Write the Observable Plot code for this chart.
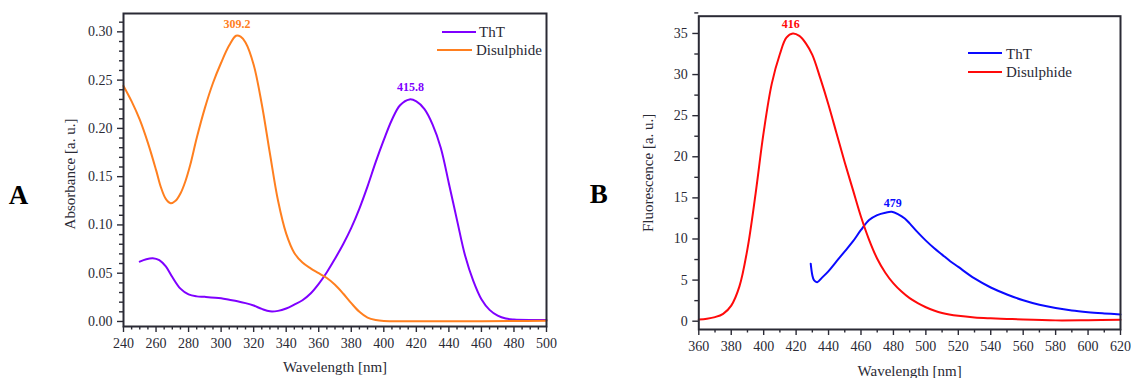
<!DOCTYPE html>
<html>
<head>
<meta charset="utf-8">
<script src="https://cdn.jsdelivr.net/npm/d3@7"></script>
<script src="https://cdn.jsdelivr.net/npm/@observablehq/plot@0.6"></script>
<style>
  body { margin: 0; background: #fff; font-family: "Liberation Serif", "Times New Roman", serif; }
  #wrap { position: relative; width: 1131px; height: 378px; overflow: hidden;
          font-family: "Liberation Serif", "Times New Roman", serif; }
  .panel { position: absolute; top: 0; }
  .lg-line { position: absolute; height: 2.5px; }
  .lg-text { position: absolute; font-size: 15px; line-height: 18px; color: #2a2a35; white-space: nowrap;
             font-family: "Liberation Serif", "Times New Roman", serif; }
</style>
</head>
<body>
<div id="wrap"></div>
<script>
// ---------------- DATA ----------------
const seriesNames = ["ThT", "Disulphide"];

// Panel A: absorbance
const absWavelengthThT = [250, 254, 258, 262, 266, 270, 275, 280, 285, 290, 300, 305, 310, 315, 320, 325, 330, 335, 340, 345, 350, 355, 360, 365, 370, 375, 380, 385, 390, 395, 400, 405, 410, 415.8, 420, 425, 430, 435, 440, 445, 450, 455, 460, 465, 470, 475, 480, 490, 500];
const absThT =           [0.062, 0.0645, 0.0655, 0.0635, 0.057, 0.046, 0.034, 0.028, 0.026, 0.0255, 0.024, 0.0225, 0.021, 0.019, 0.0165, 0.013, 0.0105, 0.011, 0.0135, 0.0175, 0.022, 0.029, 0.039, 0.051, 0.065, 0.080, 0.097, 0.117, 0.140, 0.165, 0.188, 0.209, 0.224, 0.230, 0.228, 0.220, 0.204, 0.180, 0.143, 0.105, 0.068, 0.042, 0.023, 0.012, 0.006, 0.003, 0.002, 0.0015, 0.0015];

const absWavelengthDis = [240, 245, 250, 255, 260, 263, 266, 269, 272, 275, 278, 281, 285, 290, 295, 300, 305, 309.2, 312, 315, 320, 325, 330, 335, 340, 345, 350, 355, 360, 365, 370, 375, 380, 385, 390, 395, 400, 420, 450, 480, 500];
const absDis =           [0.244, 0.228, 0.209, 0.185, 0.157, 0.139, 0.127, 0.1225, 0.125, 0.1325, 0.145, 0.162, 0.190, 0.221, 0.247, 0.268, 0.286, 0.296, 0.295, 0.289, 0.266, 0.225, 0.174, 0.125, 0.091, 0.071, 0.061, 0.055, 0.050, 0.045, 0.038, 0.029, 0.019, 0.010, 0.004, 0.0015, 0.0005, 0.0003, 0.0003, 0.0005, 0.0008];

const absPeakSeries = ["Disulphide", "ThT"];
const absPeakWavelength = [309.2, 415.8];
const absPeakValue = [0.296, 0.230];
const absPeakLabel = ["309.2", "415.8"];

const absXTicks = [240, 260, 280, 300, 320, 340, 360, 380, 400, 420, 440, 460, 480, 500];
const absYTicks = [0.00, 0.05, 0.10, 0.15, 0.20, 0.25, 0.30];

// Panel B: fluorescence
const flWavelengthThT = [429, 430, 431, 433, 436, 440, 445, 450, 455, 460, 465, 470, 475, 479, 483, 487, 490, 495, 500, 505, 510, 515, 520, 530, 540, 550, 560, 570, 580, 590, 600, 610, 620];
const flThT =           [7.0, 5.6, 5.0, 4.75, 5.3, 6.1, 7.3, 8.5, 9.7, 11.1, 12.3, 12.9, 13.2, 13.3, 13.0, 12.5, 11.9, 10.8, 9.8, 8.9, 8.1, 7.3, 6.6, 5.2, 4.1, 3.25, 2.55, 2.0, 1.6, 1.3, 1.1, 0.95, 0.82];

const flWavelengthDis = [360, 365, 370, 375, 380, 385, 390, 395, 400, 405, 410, 414, 418, 422, 426, 430, 435, 440, 445, 450, 455, 460, 465, 470, 475, 480, 485, 490, 495, 500, 505, 510, 520, 530, 540, 550, 560, 580, 600, 620];
const flDis =           [0.2, 0.3, 0.5, 0.9, 1.9, 4.2, 8.8, 15.5, 23.0, 28.9, 32.5, 34.5, 35.0, 34.7, 33.8, 32.4, 29.5, 26.3, 22.8, 19.3, 16.0, 12.7, 9.9, 7.6, 5.9, 4.6, 3.6, 2.8, 2.2, 1.7, 1.3, 1.0, 0.65, 0.45, 0.35, 0.28, 0.2, 0.1, 0.12, 0.17];

const flPeakSeries = ["Disulphide", "ThT"];
const flPeakWavelength = [416, 479];
const flPeakValue = [35.0, 13.3];
const flPeakLabel = ["416", "479"];

const flXTicks = [360, 380, 400, 420, 440, 460, 480, 500, 520, 540, 560, 580, 600, 620];
const flYTicks = [0, 5, 10, 15, 20, 25, 30, 35];

const xTitle = "Wavelength [nm]";
const absYTitle = "Absorbance [a. u.]";
const flYTitle = "Fluorescence [a. u.]";

// ---------------- STYLE ----------------
const colorsA = ["#7f00ff", "#ff7f1f"];
const colorsB = ["#0a0aff", "#ff0a0a"];
const fontFamily = '"Liberation Serif", "Times New Roman", serif';
const ink = "#2a2a35";

function rowsFrom(name, xs, ys) { return xs.map((x, i) => ({series: name, wavelength: x, value: ys[i]})); }
function peaksFrom(series, xs, ys, labels) { return xs.map((x, i) => ({series: series[i], wavelength: x, value: ys[i], label: labels[i]})); }

const rowsA = [...rowsFrom("ThT", absWavelengthThT, absThT), ...rowsFrom("Disulphide", absWavelengthDis, absDis)];
const rowsB = [...rowsFrom("ThT", flWavelengthThT, flThT), ...rowsFrom("Disulphide", flWavelengthDis, flDis)];
const peaksA = peaksFrom(absPeakSeries, absPeakWavelength, absPeakValue, absPeakLabel);
const peaksB = peaksFrom(flPeakSeries, flPeakWavelength, flPeakValue, flPeakLabel);

function minorTicks(lo, hi, step, majors) {
  const out = [];
  for (let v = lo; v <= hi + step / 2; v += step) {
    const r = Math.round(v * 1e6) / 1e6;
    if (!majors.some(m => Math.abs(m - r) < step / 10)) out.push(r);
  }
  return out;
}

function makePanel(o) {
  const textCommon = {fontFamily, textAnchor: "middle", lineAnchor: "middle"};
  return Plot.plot({
    width: o.width, height: 378,
    marginLeft: o.ml, marginTop: o.mt, marginRight: o.mr, marginBottom: o.mb,
    style: {fontFamily, fontSize: "14px", color: ink, background: "transparent", overflow: "visible"},
    x: {domain: o.xDomain},
    y: {domain: o.yDomain},
    color: {domain: seriesNames, range: o.colors},
    marks: [
      Plot.axisX({ticks: o.xMajor, tickSize: 6, tickPadding: 6, tickFormat: d => String(d), label: null, stroke: ink, strokeWidth: 1.4, fontSize: 14, fill: ink, fontFamily}),
      Plot.axisX({ticks: o.xMinor, tickSize: 3.5, tickFormat: () => "", label: null, stroke: ink, strokeWidth: 1.4}),
      Plot.axisY({ticks: o.yMajor, tickSize: 6, tickPadding: 5, tickFormat: o.yFormat, label: null, stroke: ink, strokeWidth: 1.4, fontSize: 14, fill: ink, fontFamily}),
      Plot.axisY({ticks: o.yMinor, tickSize: 4, tickFormat: () => "", label: null, stroke: ink, strokeWidth: 1.4}),
      Plot.line(o.rows, {x: "wavelength", y: "value", z: "series", stroke: "series", curve: "catmull-rom", strokeWidth: 2}),
      Plot.frame({stroke: ink, strokeWidth: 2}),
      Plot.text(o.peaks, {x: "wavelength", y: "value", text: "label", fill: "series", fontWeight: "bold", fontSize: 12, dy: o.peakDy, dx: 1, ...textCommon}),
      Plot.text([o.yTitle], {text: d => d, frameAnchor: "left", dx: o.yTitleDx, dy: o.yTitleDy, rotate: -90, fontSize: 15, fill: ink, ...textCommon}),
      Plot.text([xTitle], {text: d => d, frameAnchor: "bottom", dy: o.xTitleDy, fontSize: 15, fill: ink, ...textCommon}),
      Plot.text([o.letter], {text: d => d, frameAnchor: "left", dx: o.letterDx, dy: o.letterDy, fontSize: 27, fontWeight: "bold", fill: "#000", ...textCommon})
    ]
  });
}

const wrap = document.getElementById("wrap");

const plotA = makePanel({
  width: 560, ml: 123, mt: 13, mr: 14, mb: 52,
  xDomain: [240, 500], yDomain: [-0.0052, 0.319],
  xMajor: absXTicks, xMinor: minorTicks(240, 500, 5, absXTicks),
  yMajor: absYTicks, yMinor: minorTicks(0, 0.31, 0.01, absYTicks),
  yFormat: d3.format(".2f"),
  rows: rowsA, peaks: peaksA, colors: colorsA, peakDy: -12,
  yTitle: absYTitle, yTitleDx: -53, yTitleDy: 4, xTitleDy: 41,
  letter: "A", letterDx: -105, letterDy: 25
});
plotA.classList.add("panel");
plotA.style.left = "0px";
wrap.appendChild(plotA);

const plotB = makePanel({
  width: 566, ml: 133.3, mt: 15.7, mr: 11, mb: 49,
  xDomain: [360, 620], yDomain: [-1.01, 37.1],
  xMajor: flXTicks, xMinor: minorTicks(360, 620, 10, flXTicks),
  yMajor: flYTicks, yMinor: minorTicks(0, 37, 2.5, flYTicks),
  yFormat: d => String(d),
  rows: rowsB, peaks: peaksB, colors: colorsB, peakDy: -9,
  yTitle: flYTitle, yTitleDx: -51, yTitleDy: 0, xTitleDy: 42,
  letter: "B", letterDx: -100, letterDy: 22
});
plotB.classList.add("panel");
plotB.style.left = "565px";
wrap.appendChild(plotB);

// ---------------- LEGENDS ----------------
function legendItem(lineLeft, lineWidth, lineY, textLeft, textTop, color, label) {
  const l = document.createElement("div");
  l.className = "lg-line";
  l.style.left = lineLeft + "px"; l.style.width = lineWidth + "px";
  l.style.top = (lineY - 1.25) + "px"; l.style.background = color;
  wrap.appendChild(l);
  const t = document.createElement("div");
  t.className = "lg-text";
  t.style.left = textLeft + "px"; t.style.top = textTop + "px";
  t.textContent = label;
  wrap.appendChild(t);
}
legendItem(442, 34, 32, 479, 23, colorsA[0], seriesNames[0]);
legendItem(437, 35, 50, 476, 41, colorsA[1], seriesNames[1]);
legendItem(968, 34, 53, 1006, 45, colorsB[0], seriesNames[0]);
legendItem(968, 34, 72, 1006, 63, colorsB[1], seriesNames[1]);
</script>
</body>
</html>
